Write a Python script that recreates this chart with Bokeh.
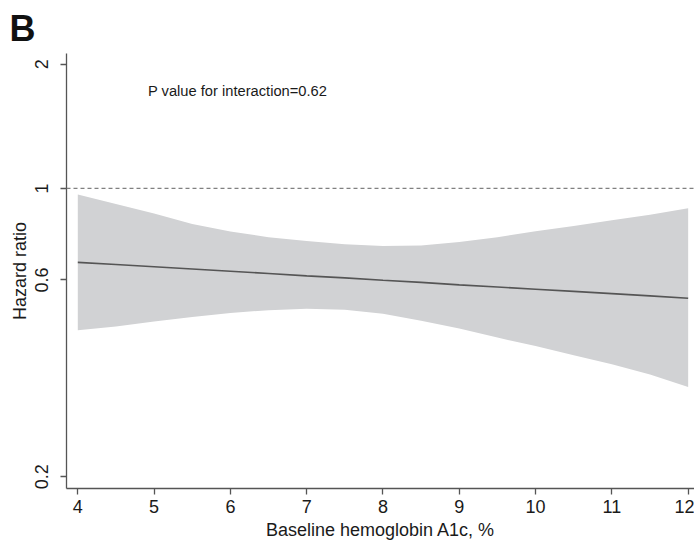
from bokeh.plotting import figure
from bokeh.models import FixedTicker, Span, Label, CustomJSTickFormatter
from bokeh.embed import file_html
from bokeh.resources import INLINE

# Data (hazard ratios, log-scale plot)
a1c = [4, 4.5, 5, 5.5, 6, 6.5, 7, 7.5, 8, 8.5, 9, 9.5, 10, 10.5, 11, 11.5, 12]
hr = [0.662, 0.654, 0.646, 0.638, 0.630, 0.622, 0.614, 0.607, 0.599,
      0.592, 0.584, 0.577, 0.570, 0.563, 0.556, 0.549, 0.542]
hr_upper = [0.967, 0.917, 0.870, 0.820, 0.786, 0.762, 0.746, 0.732, 0.725,
            0.727, 0.742, 0.762, 0.788, 0.811, 0.838, 0.864, 0.895]
hr_lower = [0.453, 0.463, 0.476, 0.488, 0.499, 0.507, 0.511, 0.508, 0.497,
            0.478, 0.458, 0.435, 0.415, 0.394, 0.375, 0.354, 0.330]

x_ticks = [4, 5, 6, 7, 8, 9, 10, 11, 12]
y_ticks = [0.2, 0.6, 1, 2]
reference_hr = 1
panel_letter = "B"
p_text = "P value for interaction=0.62"
x_title = "Baseline hemoglobin A1c, %"
y_title = "Hazard ratio"

FONT = "Liberation Sans"
TXT = "#1a1a1a"

p = figure(width=694, height=542, y_axis_type="log",
           x_range=(3.852, 12.083), y_range=(0.1874, 2.124),
           output_backend="svg", toolbar_location=None,
           min_border_left=66, min_border_right=0,
           min_border_top=53, min_border_bottom=53,
           title=panel_letter)
p.outline_line_color = None
p.xgrid.visible = False
p.ygrid.visible = False
p.background_fill_color = "white"
p.border_fill_color = "white"

p.title.text_font = FONT
p.title.text_font_size = "36px"
p.title.text_font_style = "bold"
p.title.text_color = "#111111"
p.title.align = "left"
p.title.offset = -57
p.title.standoff = 10

p.varea(x=a1c, y1=hr_lower, y2=hr_upper, fill_color="#d1d2d4", fill_alpha=1.0)
p.line(x=a1c, y=hr, line_color="#555555", line_width=1.6)

p.add_layout(Span(location=reference_hr, dimension="width",
                  line_color="#808080", line_width=1.2, line_dash="4 3"))

for ax in (p.xaxis[0], p.yaxis[0]):
    ax.axis_line_color = "#555555"
    ax.axis_line_width = 1.3
    ax.major_tick_line_color = "#555555"
    ax.major_tick_line_width = 1.3
    ax.major_tick_out = 6
    ax.major_tick_in = 0
    ax.minor_tick_line_color = None
    ax.major_label_text_font = FONT
    ax.major_label_text_font_size = "18px"
    ax.major_label_text_color = TXT
    ax.axis_label_text_font = FONT
    ax.axis_label_text_font_size = "18px"
    ax.axis_label_text_font_style = "normal"
    ax.axis_label_text_color = TXT

p.xaxis.ticker = FixedTicker(ticks=x_ticks)
p.xaxis.axis_label = x_title
p.xaxis.major_label_standoff = 5
p.xaxis.axis_label_standoff = 4

p.yaxis.ticker = FixedTicker(ticks=y_ticks)
p.yaxis.formatter = CustomJSTickFormatter(code="return tick.toString()")
p.yaxis.axis_label = y_title
p.yaxis.major_label_orientation = "vertical"
p.yaxis.major_label_standoff = 12
p.yaxis.axis_label_standoff = 3

p.add_layout(Label(x=4.92, y=1.722, text=p_text, text_font=FONT,
                   text_font_size="14.7px", text_color=TXT,
                   text_baseline="middle", text_align="left"))

open("out.html", "w").write(file_html(p, INLINE))
